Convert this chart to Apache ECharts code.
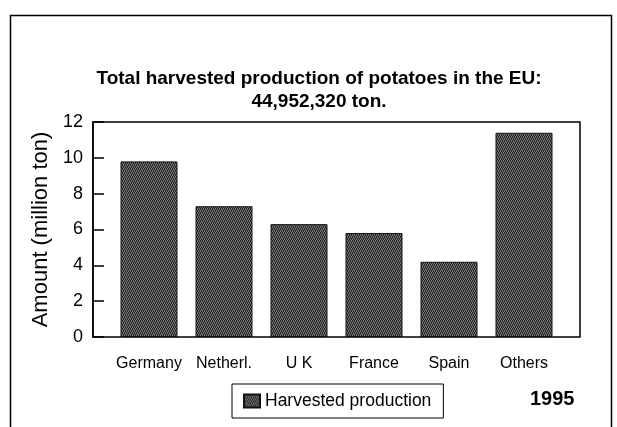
<!DOCTYPE html>
<html>
<head>
<meta charset="utf-8">
<script src="https://cdn.jsdelivr.net/npm/echarts@6/dist/echarts.min.js"></script>
<style>
  html, body { margin: 0; padding: 0; background: #fff; }
  #chart { width: 617px; height: 427px; }
</style>
</head>
<body>
<div id="chart"></div>
<script>
// data (million ton)
const countries = ['Germany', 'Netherl.', 'U K', 'France', 'Spain', 'Others'];
const production = [9.8, 7.3, 6.3, 5.8, 4.2, 11.4];
const yTicks = [0, 2, 4, 6, 8, 10, 12];

const FONT = '"Liberation Sans", Arial, sans-serif';

// dithered dark grey fill like the print
function makeDither() {
  const c = document.createElement('canvas');
  c.width = 4; c.height = 4;
  const ctx = c.getContext('2d');
  const cols = ['#1e1e1e', '#656565', '#303030', '#7e7e7e'];
  for (let y = 0; y < 4; y++) {
    for (let x = 0; x < 4; x++) {
      ctx.fillStyle = cols[(x + y * 2 + (y >> 1)) % 4];
      ctx.fillRect(x, y, 1, 1);
    }
  }
  return c;
}
const dither = { image: makeDither(), repeat: 'repeat' };

let chart = echarts.init(document.getElementById('chart'), null, { renderer: 'canvas' });

chart.setOption({
  animation: false,
  textStyle: { fontFamily: FONT, color: '#000' },
  title: {
    text: 'Total harvested production of potatoes in the EU:\n44,952,320 ton.',
    left: 314,
    textAlign: 'center',
    top: 62,
    textStyle: { fontSize: 19, fontWeight: 'bold', lineHeight: 23, fontFamily: FONT, color: '#000' }
  },
  legend: {
    data: ['Harvested production'],
    left: 232,
    top: 384,
    padding: [8, 12, 8, 11],
    borderColor: '#000',
    borderWidth: 1,
    icon: 'rect',
    itemWidth: 16,
    itemHeight: 13,
    itemGap: 4,
    textStyle: { fontSize: 17.5, fontFamily: FONT, color: '#000' }
  },
  graphic: [
    // outer frame of the figure
    { type: 'rect', shape: { x: 10.5, y: 15.5, width: 601, height: 430 },
      style: { fill: null, stroke: '#000', lineWidth: 1.5 } },
    { type: 'text', left: 530, top: 389,
      style: { text: '1995', font: 'bold 20px ' + FONT, fill: '#000' } }
  ],
  grid: [
    // frame + y axis
    { left: 93, top: 122, width: 487, height: 215, show: true,
      borderColor: '#000', borderWidth: 1.5, backgroundColor: 'transparent' },
    // inner band for the bars
    { left: 111.5, top: 122, width: 450, height: 215 }
  ],
  xAxis: [
    { gridIndex: 0, type: 'value', min: 0, max: 1, show: false },
    { gridIndex: 1, type: 'category', data: countries,
      axisLine: { show: false }, axisTick: { show: false },
      axisLabel: { interval: 0, hideOverlap: false, margin: 19, fontSize: 16, fontFamily: FONT, color: '#000' } }
  ],
  yAxis: [
    { gridIndex: 0, type: 'value', min: yTicks[0], max: yTicks[yTicks.length - 1], interval: 2,
      name: 'Amount (million ton)', nameLocation: 'middle', nameGap: 38,
      nameTextStyle: { fontSize: 22, fontFamily: FONT, color: '#000' },
      axisLine: { show: true, lineStyle: { color: '#000', width: 1.5 } },
      axisTick: { show: true, inside: true, length: 11, lineStyle: { color: '#000', width: 1.5 } },
      axisLabel: { margin: 10, fontSize: 18, fontFamily: FONT, color: '#000' },
      splitLine: { show: false } },
    { gridIndex: 1, type: 'value', min: 0, max: 12, show: false, splitLine: { show: false } }
  ],
  series: [{
    name: 'Harvested production',
    type: 'bar',
    xAxisIndex: 1,
    yAxisIndex: 1,
    barWidth: 57,
    data: production,
    itemStyle: { color: dither, borderColor: '#111', borderWidth: 1 }
  }]
});
</script>
</body>
</html>
